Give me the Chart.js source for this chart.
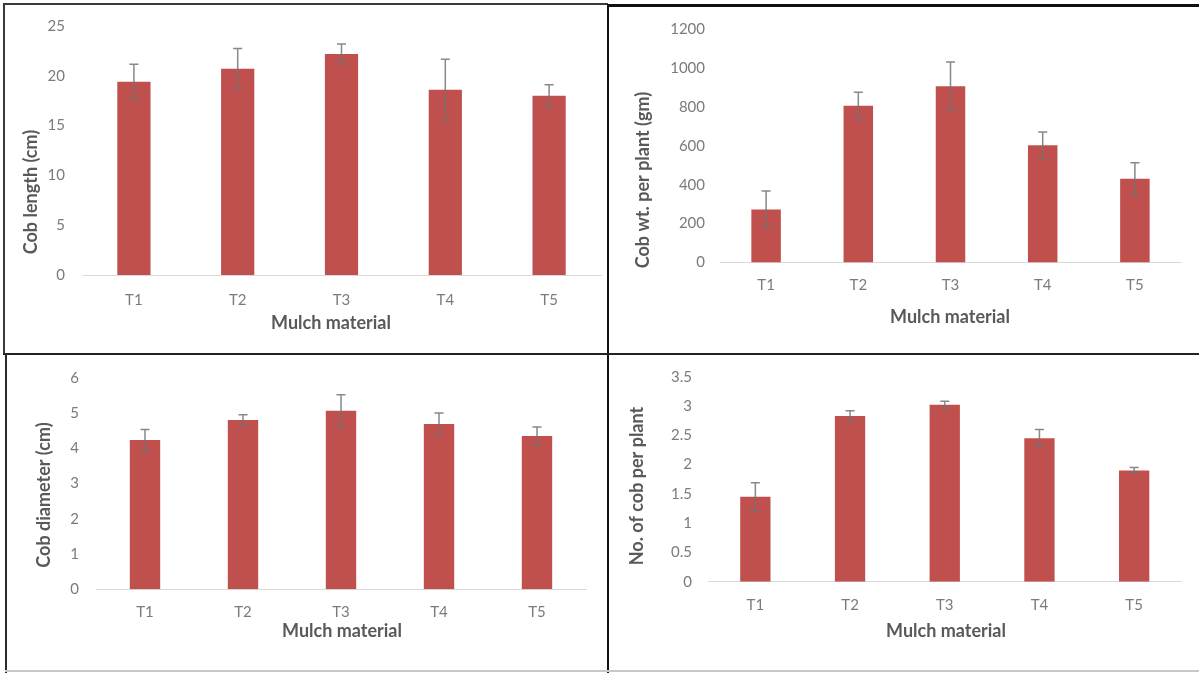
<!DOCTYPE html>
<html>
<head>
<meta charset="utf-8">
<title>Mulch material – cob traits</title>
<script src="https://cdn.jsdelivr.net/npm/chart.js@4.4.1/dist/chart.umd.min.js"></script>
<style>
  html, body { margin: 0; padding: 0; background: #ffffff; }
  #page { position: relative; width: 1199px; height: 673px; overflow: hidden; background: #ffffff; }
  #page canvas { position: absolute; left: 0; top: 0; }
  .rule { position: absolute; }
</style>
</head>
<body>
<div id="page">
  <canvas id="cLength" width="1199" height="673"></canvas>
  <canvas id="cWeight" width="1199" height="673"></canvas>
  <canvas id="cDiameter" width="1199" height="673"></canvas>
  <canvas id="cCount" width="1199" height="673"></canvas>

  <!-- panel frames -->
  <div class="rule" style="left:3px;top:3px;width:605px;height:2px;background:#3a3a3a"></div>
  <div class="rule" style="left:3px;top:3px;width:2px;height:352px;background:#3a3a3a"></div>
  <div class="rule" style="left:607px;top:4px;width:592px;height:3px;background:#111"></div>
  <div class="rule" style="left:607px;top:4px;width:2px;height:669px;background:#111"></div>
  <div class="rule" style="left:3px;top:353px;width:1196px;height:2px;background:#222"></div>
  <div class="rule" style="left:5px;top:353px;width:2px;height:320px;background:#2a2a2a"></div>
  <div class="rule" style="left:5px;top:670px;width:1194px;height:2px;background:#c8c8c8"></div>
</div>

<script>
// Treatments (mulch materials)
const treatments = ['T1', 'T2', 'T3', 'T4', 'T5'];

// Cob length (cm) with standard error
const cobLength    = [19.4, 20.7, 22.2, 18.6, 18.0];
const cobLengthErr = [1.75, 2.05, 1.0, 3.05, 1.1];

// Cob weight per plant (gm) with standard error
const cobWeight    = [273, 805, 906, 603, 431];
const cobWeightErr = [95, 70, 124, 68, 81];

// Cob diameter (cm) with standard error
const cobDiameter    = [4.23, 4.80, 5.06, 4.69, 4.35];
const cobDiameterErr = [0.30, 0.15, 0.46, 0.31, 0.25];

// Number of cobs per plant with standard error
const cobCount    = [1.45, 2.83, 3.02, 2.45, 1.90];
const cobCountErr = [0.24, 0.09, 0.06, 0.15, 0.05];

// Axis titles
const xTitle = 'Mulch material';
const lengthTitle = 'Cob length (cm)';
const weightTitle = 'Cob wt. per plant (gm)';
const diameterTitle = 'Cob diameter (cm)';
const countTitle = 'No. of cob per plant';

const BAR_COLOR = '#C0504D';
const TICK_COLOR = '#7b7b7b';
const TITLE_COLOR = '#595959';
const FONT = 'Lato, "Liberation Sans", sans-serif';

// Draws +/- error whiskers on top of each bar using the chart's own scales
const errorBarPlugin = {
  id: 'errorBars',
  afterDatasetsDraw(chart, args, opts) {
    const meta = chart.getDatasetMeta(0);
    const ds = chart.data.datasets[0];
    const yScale = chart.scales.y;
    const ctx = chart.ctx;
    ctx.save();
    ctx.strokeStyle = opts.color || '#808080';
    ctx.lineWidth = opts.width || 1.5;
    const cap = opts.cap || 4.5;
    meta.data.forEach((bar, i) => {
      const v = ds.data[i];
      const e = ds.errors[i];
      const x = bar.x;
      const yTop = yScale.getPixelForValue(v + e);
      const yBot = yScale.getPixelForValue(v - e);
      ctx.beginPath();
      ctx.moveTo(x, yTop); ctx.lineTo(x, yBot);
      ctx.moveTo(x - cap, yTop); ctx.lineTo(x + cap, yTop);
      ctx.moveTo(x - cap, yBot); ctx.lineTo(x + cap, yBot);
      ctx.stroke();
    });
    ctx.restore();
  }
};

// Axis titles placed at fixed spots in each panel
const axisTitlePlugin = {
  id: 'axisTitles',
  afterDraw(chart, args, opts) {
    const ctx = chart.ctx;
    ctx.save();
    ctx.font = 'bold ' + opts.size + 'px ' + FONT;
    ctx.fillStyle = TITLE_COLOR;
    ctx.textAlign = 'center';
    ctx.textBaseline = 'middle';
    ctx.fillText(opts.x.text, opts.x.cx, opts.x.cy);
    ctx.translate(opts.y.cx, opts.y.cy);
    ctx.rotate(-Math.PI / 2);
    ctx.fillText(opts.y.text, 0, 0);
    ctx.restore();
  }
};

const Y_BOX = 50;   // reserved width of the value axis
const X_BOX = 40;   // reserved height of the category axis

function makePanel(id, values, errors, cfg) {
  const W = 1199, H = 673;
  return new Chart(document.getElementById(id), {
    type: 'bar',
    data: {
      labels: treatments,
      datasets: [{
        data: values,
        errors: errors,
        backgroundColor: BAR_COLOR,
        borderWidth: 0,
        categoryPercentage: 1.0,
        barPercentage: cfg.barPct
      }]
    },
    options: {
      responsive: false,
      animation: false,
      devicePixelRatio: 1,
      events: [],
      layout: {
        padding: {
          left: cfg.area.left - Y_BOX,
          top: cfg.area.top,
          right: W - cfg.area.right,
          bottom: H - cfg.area.bottom - X_BOX
        }
      },
      scales: {
        x: {
          offset: true,
          grid: { display: false, drawTicks: false },
          border: { display: true, color: '#d9d9d9', width: 1 },
          ticks: { color: TICK_COLOR, font: { family: FONT, size: cfg.tickSize }, padding: cfg.xPad },
          afterFit(s) { s.height = X_BOX; }
        },
        y: {
          min: 0,
          max: cfg.max,
          grid: { display: false, drawTicks: false },
          border: { display: false },
          ticks: {
            stepSize: cfg.step,
            color: TICK_COLOR,
            font: { family: FONT, size: cfg.tickSize },
            padding: cfg.yPad,
            callback: v => String(v)
          },
          afterFit(s) { s.width = Y_BOX; }
        }
      },
      plugins: {
        legend: { display: false },
        tooltip: { enabled: false },
        errorBars: { color: 'rgba(115,115,115,0.85)', width: 1.5, cap: 4.5 },
        axisTitles: {
          size: cfg.titleSize,
          x: { text: xTitle, cx: cfg.xTitle[0], cy: cfg.xTitle[1] },
          y: { text: cfg.yTitleText, cx: cfg.yTitle[0], cy: cfg.yTitle[1] }
        }
      }
    },
    plugins: [errorBarPlugin, axisTitlePlugin]
  });
}

makePanel('cLength', cobLength, cobLengthErr, {
  area: { left: 82, top: 25, right: 601, bottom: 275 },
  max: 25, step: 5, barPct: 0.32, tickSize: 15, titleSize: 18,
  xPad: 16, yPad: 17,
  xTitle: [331, 323], yTitle: [31, 192], yTitleText: lengthTitle
});

makePanel('cWeight', cobWeight, cobWeightErr, {
  area: { left: 720, top: 29, right: 1181, bottom: 262.5 },
  max: 1200, step: 200, barPct: 0.32, tickSize: 15, titleSize: 18,
  xPad: 14, yPad: 15,
  xTitle: [950, 317], yTitle: [643, 180], yTitleText: weightTitle
});

makePanel('cDiameter', cobDiameter, cobDiameterErr, {
  area: { left: 96, top: 377.7, right: 586, bottom: 589.3 },
  max: 6, step: 1, barPct: 0.31, tickSize: 15, titleSize: 18,
  xPad: 14, yPad: 17,
  xTitle: [342, 631], yTitle: [44, 495], yTitleText: diameterTitle
});

makePanel('cCount', cobCount, cobCountErr, {
  area: { left: 708, top: 376.7, right: 1181.5, bottom: 581.7 },
  max: 3.5, step: 0.5, barPct: 0.32, tickSize: 15, titleSize: 18,
  xPad: 14, yPad: 16,
  xTitle: [946, 631], yTitle: [637, 486], yTitleText: countTitle
});
</script>
</body>
</html>
